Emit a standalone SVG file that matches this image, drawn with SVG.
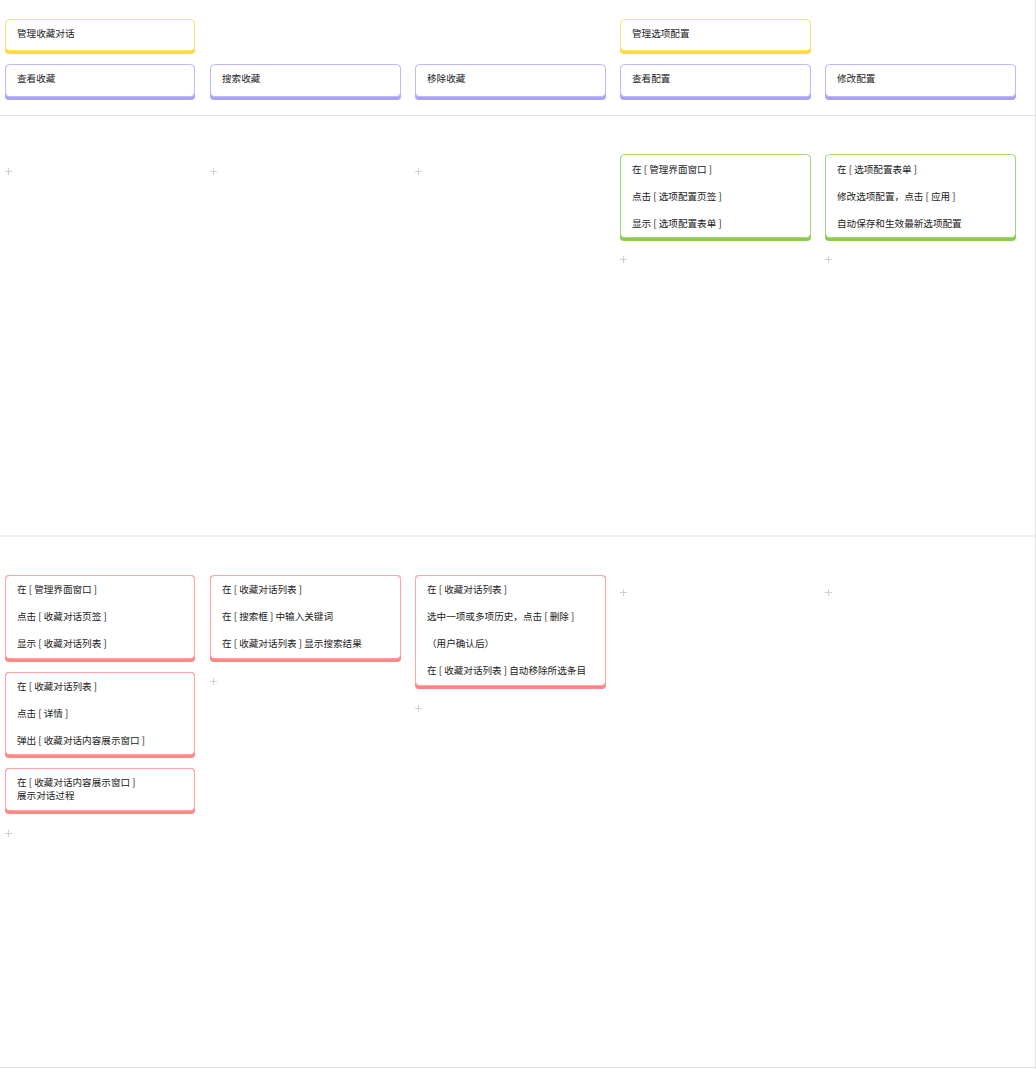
<svg xmlns="http://www.w3.org/2000/svg" width="1036" height="1069" viewBox="0 0 1036 1069">
<style>
text{font-family:"Noto Sans CJK SC","Liberation Sans",sans-serif;font-size:9.6px;fill:#222}
.plus{stroke:#d0d0d0;stroke-width:1}
.div{stroke:#e2e2e2;stroke-width:1.2}
.yb{fill:#ffd93a}.yf{fill:#fff;stroke:#ffe475;stroke-width:1}
.pb{fill:#a8a2f4}.pf{fill:#fff;stroke:#bdb8ff;stroke-width:1}
.gb{fill:#8acb4c}.gf{fill:#fff;stroke:#a2d874;stroke-width:1}
.rb{fill:#ff8484}.rf{fill:#fff;stroke:#ffa3a3;stroke-width:1}
</style>
<rect width="1036" height="1069" fill="#fff"/>
<g id="dividers">
<line class="div" x1="0" y1="115.5" x2="1036" y2="115.5"/>
<line class="div" x1="0" y1="536" x2="1036" y2="536"/>
<line class="div" x1="0" y1="1067.5" x2="1036" y2="1067.5"/>
<line class="div" x1="1035.5" y1="0" x2="1035.5" y2="1069"/>
</g>
<g id="plus-signs">
<path class="plus" d="M5 171.5h7M8.5 168v7M210 171.5h7M213.5 168v7M415 171.5h7M418.5 168v7M620 259.5h7M623.5 256v7M825 259.5h7M828.5 256v7M620 592.5h7M623.5 589v7M825 592.5h7M828.5 589v7M210 681.5h7M213.5 678v7M415 708.5h7M418.5 705v7M5 833.5h7M8.5 830v7"/>
</g>
<g id="connectors"></g>
<g id="n-manage-fav">
<rect class="yb" x="5" y="20" width="190" height="34" rx="4"/>
<rect class="yf" x="5.5" y="19.5" width="189" height="31" rx="4"/>
<text x="17" y="37">管理收藏对话</text>
</g>
<g id="n-manage-opt">
<rect class="yb" x="620" y="20" width="191" height="34" rx="4"/>
<rect class="yf" x="620.5" y="19.5" width="190" height="31" rx="4"/>
<text x="632" y="37">管理选项配置</text>
</g>
<g id="n-view-fav">
<rect class="pb" x="5" y="65" width="190" height="35" rx="4"/>
<rect class="pf" x="5.5" y="64.5" width="189" height="32" rx="4"/>
<text x="17" y="82">查看收藏</text>
</g>
<g id="n-search-fav">
<rect class="pb" x="210" y="65" width="191" height="35" rx="4"/>
<rect class="pf" x="210.5" y="64.5" width="190" height="32" rx="4"/>
<text x="222" y="82">搜索收藏</text>
</g>
<g id="n-remove-fav">
<rect class="pb" x="415" y="65" width="191" height="35" rx="4"/>
<rect class="pf" x="415.5" y="64.5" width="190" height="32" rx="4"/>
<text x="427" y="82">移除收藏</text>
</g>
<g id="n-view-opt">
<rect class="pb" x="620" y="65" width="191" height="35" rx="4"/>
<rect class="pf" x="620.5" y="64.5" width="190" height="32" rx="4"/>
<text x="632" y="82">查看配置</text>
</g>
<g id="n-edit-opt">
<rect class="pb" x="825" y="65" width="191" height="35" rx="4"/>
<rect class="pf" x="825.5" y="64.5" width="190" height="32" rx="4"/>
<text x="837" y="82">修改配置</text>
</g>
<g id="n-view-opt-steps">
<rect class="gb" x="620" y="155" width="191" height="86" rx="4"/>
<rect class="gf" x="620.5" y="154.5" width="190" height="83" rx="4"/>
<text x="632" y="172.5">在 [ 管理界面窗口 ]</text>
<text x="632" y="199.5">点击 [ 选项配置页签 ]</text>
<text x="632" y="226.5">显示 [ 选项配置表单 ]</text>
</g>
<g id="n-edit-opt-steps">
<rect class="gb" x="825" y="155" width="191" height="86" rx="4"/>
<rect class="gf" x="825.5" y="154.5" width="190" height="83" rx="4"/>
<text x="837" y="172.5">在 [ 选项配置表单 ]</text>
<text x="837" y="199.5">修改选项配置，点击 [ 应用 ]</text>
<text x="837" y="226.5">自动保存和生效最新选项配置</text>
</g>
<g id="n-view-fav-1">
<rect class="rb" x="5" y="575" width="190" height="87" rx="4"/>
<rect class="rf" x="5.5" y="575.5" width="189" height="83" rx="4"/>
<text x="17" y="592.5">在 [ 管理界面窗口 ]</text>
<text x="17" y="619.5">点击 [ 收藏对话页签 ]</text>
<text x="17" y="646.5">显示 [ 收藏对话列表 ]</text>
</g>
<g id="n-view-fav-2">
<rect class="rb" x="5" y="672" width="190" height="86" rx="4"/>
<rect class="rf" x="5.5" y="672.5" width="189" height="82" rx="4"/>
<text x="17" y="689.5">在 [ 收藏对话列表 ]</text>
<text x="17" y="716.5">点击 [ 详情 ]</text>
<text x="17" y="743.5">弹出 [ 收藏对话内容展示窗口 ]</text>
</g>
<g id="n-view-fav-3">
<rect class="rb" x="5" y="768" width="190" height="46" rx="4"/>
<rect class="rf" x="5.5" y="768.5" width="189" height="42" rx="4"/>
<text x="17" y="786">在 [ 收藏对话内容展示窗口 ]</text>
<text x="17" y="799">展示对话过程</text>
</g>
<g id="n-search-fav-1">
<rect class="rb" x="210" y="575" width="191" height="87" rx="4"/>
<rect class="rf" x="210.5" y="575.5" width="190" height="83" rx="4"/>
<text x="222" y="592.5">在 [ 收藏对话列表 ]</text>
<text x="222" y="619.5">在 [ 搜索框 ] 中输入关键词</text>
<text x="222" y="646.5">在 [ 收藏对话列表 ] 显示搜索结果</text>
</g>
<g id="n-remove-fav-1">
<rect class="rb" x="415" y="575" width="191" height="114" rx="4"/>
<rect class="rf" x="415.5" y="575.5" width="190" height="110" rx="4"/>
<text x="427" y="592.5">在 [ 收藏对话列表 ]</text>
<text x="427" y="619.5">选中一项或多项历史，点击 [ 删除 ]</text>
<text x="427" y="646.5">（用户确认后）</text>
<text x="427" y="673.5">在 [ 收藏对话列表 ] 自动移除所选条目</text>
</g>
</svg>
